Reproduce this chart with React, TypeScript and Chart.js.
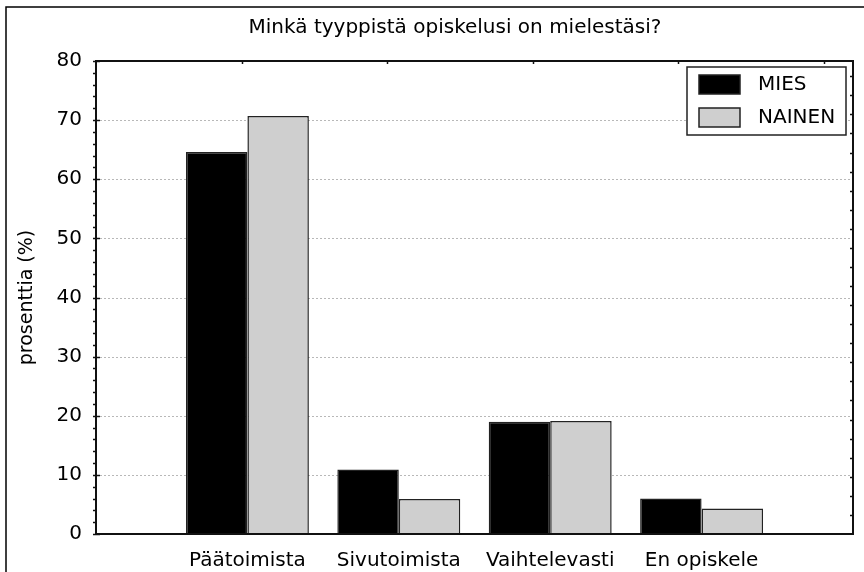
import React, { useEffect, useRef } from "react";
import { Chart, registerables } from "chart.js";

Chart.register(...registerables);

const categories = ["", "Päätoimista", "Sivutoimista", "Vaihtelevasti", "En opiskele", ""];
const seriesNames = ["MIES", "NAINEN"];
const miesValues = [null, 64.6, 10.9, 19.0, 6.0, null];
const nainenValues = [null, 70.7, 5.9, 19.1, 4.3, null];
const yTicks = [0, 10, 20, 30, 40, 50, 60, 70, 80];
const titleText = "Minkä tyyppistä opiskelusi on mielestäsi?";
const yAxisTitle = "prosenttia (%)";

const FONT = "'DejaVu Sans', sans-serif";
const CAT_PCT = 0.812;

const decor = {
  id: "decor",
  beforeDraw(chart: any) {
    const ctx = chart.ctx;
    ctx.save();
    ctx.fillStyle = "#fff";
    ctx.fillRect(0, 0, chart.width, chart.height);
    ctx.strokeStyle = "#000";
    ctx.lineWidth = 1.5;
    ctx.strokeRect(6, 7, chart.width + 20, chart.height + 20);
    ctx.fillStyle = "#000";
    ctx.font = "20px " + FONT;
    ctx.textAlign = "center";
    ctx.textBaseline = "alphabetic";
    ctx.fillText(titleText, 455, 33);
    ctx.restore();
  },
  beforeDatasetsDraw(chart: any) {
    const ctx = chart.ctx;
    const { left, right } = chart.chartArea;
    const y = chart.scales.y;
    ctx.save();
    ctx.strokeStyle = "#b8b8b8";
    ctx.lineWidth = 1;
    ctx.setLineDash([2, 2]);
    yTicks.forEach((v) => {
      if (v > 0 && v < 80) {
        const py = Math.round(y.getPixelForValue(v)) + 0.5;
        ctx.beginPath();
        ctx.moveTo(left, py);
        ctx.lineTo(right, py);
        ctx.stroke();
      }
    });
    ctx.restore();
  },
  afterDatasetsDraw(chart: any) {
    const ctx = chart.ctx;
    const { left, right, top, bottom } = chart.chartArea;
    const y = chart.scales.y;
    ctx.save();
    ctx.strokeStyle = "#111";
    ctx.lineWidth = 2;
    ctx.beginPath();
    ctx.moveTo(left, top);
    ctx.lineTo(right, top);
    ctx.lineTo(right, bottom);
    ctx.lineTo(left, bottom);
    ctx.closePath();
    ctx.stroke();
    ctx.lineWidth = 1.5;
    for (let v = 0; v <= 80; v += 2) {
      const py = Math.round(y.getPixelForValue(v)) + 0.5;
      ctx.beginPath();
      if (v % 10 === 0) {
        ctx.moveTo(left - 3, py);
        ctx.lineTo(left + 4, py);
      } else {
        ctx.moveTo(left - 3, py);
        ctx.lineTo(left, py);
      }
      ctx.stroke();
    }
    const rStep = (bottom - top) / 24.8;
    for (let p = bottom - rStep; p > top + 2; p -= rStep) {
      const py = Math.round(p) + 0.5;
      ctx.beginPath();
      ctx.moveTo(right - 3, py);
      ctx.lineTo(right, py);
      ctx.stroke();
    }
    const tStep = (right - left) / 5.2;
    for (let p = left + tStep; p < right - 2; p += tStep) {
      const px = Math.round(p) + 0.5;
      ctx.beginPath();
      ctx.moveTo(px, top);
      ctx.lineTo(px, top + 3);
      ctx.stroke();
    }
    // legend
    const lx = right - 166;
    const ly = top + 6;
    ctx.fillStyle = "#fff";
    ctx.fillRect(lx, ly, 159, 68);
    ctx.strokeStyle = "#222";
    ctx.lineWidth = 1.5;
    ctx.strokeRect(lx, ly, 159, 68);
    chart.data.datasets.forEach((ds: any, i: number) => {
      const sy = ly + 8 + i * 33;
      ctx.fillStyle = ds.backgroundColor;
      ctx.fillRect(lx + 12, sy, 41, 19);
      ctx.strokeStyle = "#222";
      ctx.lineWidth = 1.5;
      ctx.strokeRect(lx + 12, sy, 41, 19);
      ctx.fillStyle = "#000";
      ctx.font = "20px " + FONT;
      ctx.textAlign = "left";
      ctx.textBaseline = "middle";
      ctx.fillText(ds.label, lx + 71, sy + 10);
    });
    ctx.restore();
  },
};

export default function App() {
  const ref = useRef<HTMLCanvasElement | null>(null);
  useEffect(() => {
    document.body.style.margin = "0";
    const chart = new Chart(ref.current as HTMLCanvasElement, {
      type: "bar",
      data: {
        labels: categories,
        datasets: [
          {
            label: seriesNames[0],
            data: miesValues as any,
            backgroundColor: "#000000",
            borderColor: "#222",
            borderWidth: 1.5,
            categoryPercentage: CAT_PCT,
            barPercentage: 1,
          },
          {
            label: seriesNames[1],
            data: nainenValues as any,
            backgroundColor: "#cfcfcf",
            borderColor: "#222",
            borderWidth: 1.5,
            categoryPercentage: CAT_PCT,
            barPercentage: 1,
          },
        ],
      },
      options: {
        responsive: false,
        animation: false,
        layout: { padding: { left: 0, right: 11, top: 61, bottom: 0 } },
        plugins: {
          legend: { display: false },
          title: { display: false },
          tooltip: { enabled: false },
        },
        scales: {
          x: {
            type: "category",
            offset: false,
            grid: { display: false, drawTicks: false },
            border: { display: false },
            ticks: {
              color: "#000",
              font: { family: FONT, size: 20 },
              padding: 15,
              maxRotation: 0,
              autoSkip: false,
            },
            afterFit(scale: any) {
              scale.height = 38;
              scale.paddingLeft = 0;
              scale.paddingRight = 0;
            },
          },
          y: {
            min: 0,
            max: 80,
            grid: { display: false, drawTicks: false },
            border: { display: false },
            ticks: {
              stepSize: 10,
              color: "#000",
              font: { family: FONT, size: 20 },
              padding: 14,
            },
            title: {
              display: true,
              text: yAxisTitle,
              color: "#000",
              font: { family: FONT, size: 19 },
              padding: { top: 16, bottom: 0 },
            },
            afterFit(scale: any) {
              scale.width = 96;
              scale.paddingTop = 0;
              scale.paddingBottom = 0;
            },
          },
        },
      },
      plugins: [decor],
    });
    return () => chart.destroy();
  }, []);
  return (
    <div style={{ width: 864, height: 572 }}>
      <canvas ref={ref} width={864} height={572} />
    </div>
  );
}
